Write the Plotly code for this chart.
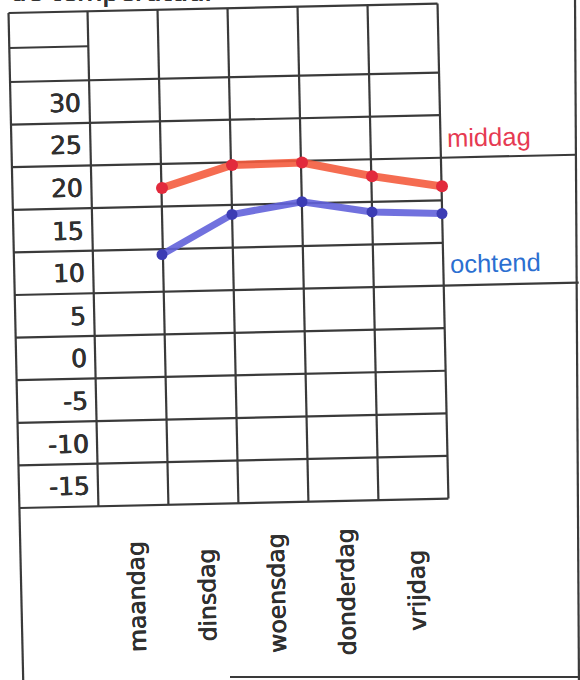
import plotly.graph_objects as go

# ---------------- data ----------------
days = ["maandag", "dinsdag", "woensdag", "donderdag", "vrijdag"]
middag = [19.3, 22.0, 22.3, 20.7, 19.5]
ochtend = [11.5, 16.2, 17.7, 16.5, 16.3]
y_ticks = [30, 25, 20, 15, 10, 5, 0, -5, -10, -15]
series_names = ["middag", "ochtend"]
title_text = "de temperatuur"

# ---------------- layout geometry (pixels) ----------------
W, H = 580, 680
S = 0.022            # small tilt of the scanned sheet
PX, PY = 303, 210    # tilt pivot
COLS = [13, 92, 162, 232, 302, 372, 442]
COL_W = 70
TOP = 6.6
ROW0, RH = 75.6, 42.6
TICK_STEP = 5
RIGHT = 577

def rot(u, v):
    return u + S * (v - PY), v - S * (u - PX)

shapes = []
GRID = "#3a3a3a"

def seg(u1, v1, u2, v2, tilt=True, width=2.2):
    if tilt:
        x1, y1 = rot(u1, v1)
        x2, y2 = rot(u2, v2)
    else:
        x1, y1, x2, y2 = u1, v1, u2, v2
    shapes.append(dict(type="line", xref="paper", yref="paper",
                       x0=x1 / W, y0=1 - y1 / H, x1=x2 / W, y1=1 - y2 / H,
                       line=dict(color=GRID, width=width), layer="below"))

rows = [ROW0 + k * RH for k in range(len(y_ticks) + 1)]
BOTTOM = rows[-1]
seg(COLS[0], TOP, COLS[-1], TOP)
seg(COLS[0], 41.6, COLS[1], 41.6)
for r in rows:
    seg(COLS[0], r, COLS[-1], r)
seg(COLS[-1], rows[2], RIGHT, rows[2])
seg(COLS[-1], rows[5], RIGHT, rows[5])
for c in COLS[1:]:
    seg(c, TOP, c, BOTTOM)
seg(COLS[0], TOP, COLS[0], 700)
seg(575, -5, 579, 690, tilt=False)
seg(230, 677, 590, 677, tilt=False)

# axis ranges so that categories/values land on the sheet grid
px_per_unit = RH / TICK_STEP
y_center0 = ROW0 + RH / 2
y_top_val = y_ticks[0] + y_center0 / px_per_unit
y_bot_val = y_ticks[0] - (H - y_center0) / px_per_unit
x_lo = -COLS[2] / COL_W
x_hi = (W - COLS[2]) / COL_W

fig = go.Figure()
fig.add_trace(go.Scatter(
    x=days, y=middag, name=series_names[0], mode="lines+markers",
    line=dict(color="rgba(244,92,62,0.9)", width=8),
    marker=dict(color="#e22a3c", size=12), hoverinfo="skip"))
fig.add_trace(go.Scatter(
    x=days, y=ochtend, name=series_names[1], mode="lines+markers",
    line=dict(color="rgba(98,98,218,0.9)", width=7),
    marker=dict(color="#3c3cb4", size=11), hoverinfo="skip"))

ann = []
TXT = "#303030"
THICK = "0.5px 0 0 #303030, -0.3px 0 0 #303030"
for i, t in enumerate(y_ticks):
    v = ROW0 + RH * (i + 0.5)
    x, _ = rot(86, v)
    ann.append(dict(text=str(t), xref="paper", yref="y", x=x / W, y=t,
                    yshift=-S * (PX - 55) - 1, xanchor="right", yanchor="middle",
                    showarrow=False, textangle=-1.3,
                    font=dict(family="DejaVu Sans", size=25, color=TXT, shadow=THICK)))
for i, d in enumerate(days):
    cx = COLS[2] + i * COL_W - 25
    cy = 597 - S * (cx - 140)
    ann.append(dict(text=d, xref="x", yref="paper", x=d, y=1 - cy / H,
                    xshift=-25, xanchor="center", yanchor="middle",
                    showarrow=False, textangle=-91.3,
                    font=dict(family="DejaVu Sans", size=23.5, color=TXT, shadow=THICK)))
ann.append(dict(text=series_names[0], xref="paper", yref="paper",
                x=445 / W, y=1 - 137 / H, xanchor="left", yanchor="middle",
                showarrow=False, textangle=-1.3,
                font=dict(family="Liberation Sans", size=25.5, color="#e63a52")))
ann.append(dict(text=series_names[1], xref="paper", yref="paper",
                x=448 / W, y=1 - 263 / H, xanchor="left", yanchor="middle",
                showarrow=False, textangle=-1.3,
                font=dict(family="Liberation Sans", size=25.5, color="#2b6fd1")))
ann.append(dict(text=title_text, xref="paper", yref="paper",
                x=8 / W, y=1 - 9.5 / H, xanchor="left", yanchor="bottom",
                showarrow=False,
                font=dict(family="DejaVu Sans", size=26, color="#333333", shadow=THICK)))

fig.update_layout(
    width=W, height=H, margin=dict(l=0, r=0, t=0, b=0),
    paper_bgcolor="white", plot_bgcolor="white", showlegend=False,
    xaxis=dict(visible=False, range=[x_lo, x_hi], type="category"),
    yaxis=dict(visible=False, range=[y_bot_val, y_top_val]),
    shapes=shapes, annotations=ann,
)
fig.write_html("out.html", config={"displayModeBar": False},
               post_script="document.body.style.margin='0';document.body.style.overflow='hidden';")
